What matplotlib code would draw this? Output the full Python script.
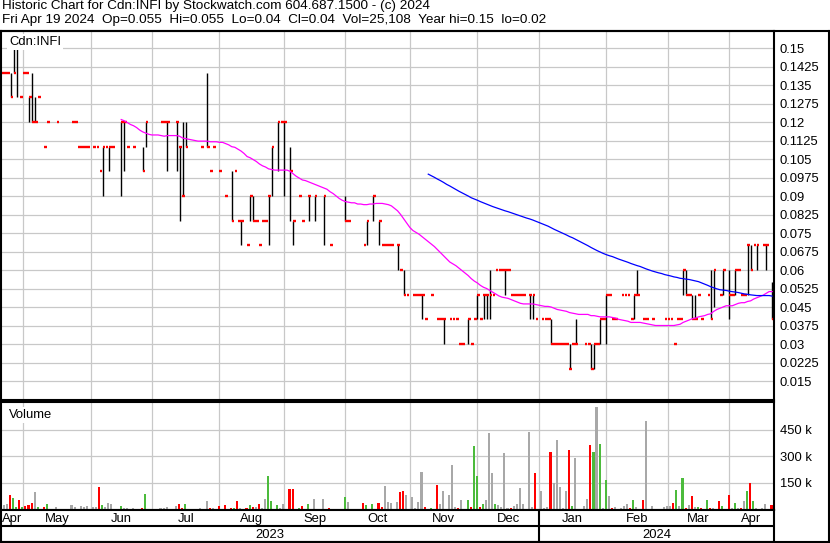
import numpy as np
import pandas as pd
import matplotlib
matplotlib.use('Agg')
import matplotlib.pyplot as plt
from matplotlib.lines import Line2D

plt.rcParams['font.family'] = ['Liberation Sans', 'DejaVu Sans']

# trading session number (0 = Apr 20 2023) and daily high / low / close
day = [0, 1, 2, 3, 4, 5, 6, 7, 8, 9, 10, 11, 12, 14, 15, 18, 23, 24, 25, 26,
       27, 28, 30, 31, 32, 33, 34, 35, 36, 39, 40, 41, 43, 46, 47, 52, 53, 54, 57, 58,
       59, 60, 65, 67, 68, 69, 71, 73, 75, 76, 77, 78, 80, 81, 82, 83, 84, 85, 86, 87,
       88, 90, 91, 92, 94, 95, 97, 98, 100, 102, 105, 107, 112, 113, 118, 119, 121, 123, 124, 125,
       126, 127, 129, 130, 131, 132, 134, 135, 136, 137, 138, 140, 142, 143, 144, 146, 147, 148, 149, 150,
       152, 153, 154, 155, 156, 157, 158, 159, 160, 161, 162, 163, 164, 165, 166, 167, 168, 169, 170, 172,
       173, 174, 176, 177, 178, 179, 180, 181, 182, 183, 184, 185, 186, 187, 190, 191, 192, 193, 194, 195,
       196, 197, 198, 199, 200, 202, 203, 204, 205, 206, 207, 209, 210, 212, 216, 217, 218, 219, 220, 221,
       222, 223, 224, 225, 226, 227, 228, 230, 231, 232, 234, 235, 237, 238, 239, 240, 241, 242, 243, 244,
       245, 246, 248, 249, 251]
high = [.14, .14, .14, .14, .15, .15, .13, .14, .14, .13, .14, .13, .13, .11, .12, .12, .12, .12, .11, .11,
        .11, .11, .11, .11, .10, .11, .11, .11, .11, .12, .12, .11, .11, .11, .12, .12, .12, .12, .12, .11,
        .12, .12, .11, .14, .10, .11, .10, .09, .10, .10, .08, .08, .07, .09, .09, .08, .07, .08, .08, .09,
        .11, .12, .12, .12, .11, .08, .09, .08, .09, .09, .09, .07, .09, .08, .07, .08, .09, .08, .07, .07,
        .07, .07, .07, .06, .06, .05, .05, .05, .05, .05, .04, .05, .04, .04, .04, .04, .04, .04, .03, .03,
        .04, .03, .04, .05, .04, .05, .05, .06, .05, .06, .06, .06, .06, .06, .05, .05, .05, .05, .05, .05,
        .05, .04, .04, .04, .04, .04, .03, .03, .03, .03, .03, .03, .03, .04, .03, .03, .03, .03, .03, .04,
        .04, .05, .05, .04, .04, .05, .05, .05, .04, .05, .06, .04, .04, .04, .04, .04, .04, .03, .04, .04,
        .06, .06, .05, .05, .05, .05, .04, .05, .06, .06, .05, .06, .06, .05, .06, .06, .05, .05, .07, .07,
        .07, .07, .07, .07, .055]
low = [.14, .14, .14, .13, .14, .13, .13, .14, .14, .12, .12, .12, .13, .11, .12, .12, .12, .12, .11, .11,
       .11, .11, .11, .11, .10, .09, .11, .10, .11, .09, .10, .11, .11, .10, .11, .12, .12, .10, .10, .08,
       .09, .11, .11, .11, .10, .11, .10, .09, .08, .10, .08, .07, .07, .08, .08, .08, .07, .08, .08, .07,
       .09, .10, .12, .09, .08, .07, .09, .08, .08, .08, .07, .07, .08, .08, .07, .07, .08, .07, .07, .07,
       .07, .07, .06, .06, .05, .05, .05, .05, .05, .04, .04, .05, .04, .04, .03, .04, .04, .04, .03, .03,
       .03, .03, .04, .04, .04, .04, .04, .04, .05, .06, .06, .06, .05, .06, .05, .05, .05, .05, .05, .04,
       .04, .04, .04, .04, .04, .03, .03, .03, .03, .03, .03, .02, .03, .03, .03, .03, .02, .02, .03, .03,
       .04, .03, .05, .04, .04, .05, .05, .05, .04, .04, .05, .04, .04, .04, .04, .04, .04, .03, .04, .04,
       .05, .05, .05, .04, .04, .05, .04, .05, .04, .045, .05, .05, .04, .05, .05, .06, .05, .05, .05, .06,
       .07, .06, .07, .06, .04]
close = [.14, .14, .14, .13, .14, .15, .13, .14, .14, .13, .12, .12, .13, .11, .12, .12, .12, .12, .11, .11,
         .11, .11, .11, .11, .10, .11, .11, .11, .11, .12, .12, .11, .11, .10, .12, .12, .12, .12, .12, .11,
         .09, .11, .11, .11, .10, .11, .10, .09, .08, .10, .08, .08, .07, .09, .08, .08, .07, .08, .08, .09,
         .11, .12, .12, .12, .10, .08, .09, .08, .09, .09, .09, .07, .08, .08, .07, .08, .09, .08, .07, .07,
         .07, .07, .07, .06, .05, .05, .05, .05, .05, .05, .04, .05, .04, .04, .04, .04, .04, .04, .03, .03,
         .04, .03, .04, .05, .04, .05, .05, .05, .05, .06, .06, .06, .06, .06, .05, .05, .05, .05, .05, .05,
         .05, .04, .04, .04, .04, .03, .03, .03, .03, .03, .03, .02, .03, .03, .03, .03, .02, .03, .03, .04,
         .04, .05, .05, .04, .04, .05, .05, .05, .04, .05, .05, .04, .04, .04, .04, .04, .04, .03, .04, .04,
         .06, .05, .05, .04, .04, .05, .04, .05, .04, .06, .05, .06, .05, .05, .06, .06, .05, .05, .07, .06,
         .07, .07, .07, .07, .04]

# volume per session (thousands) and move vs previous close: 1 up, -1 down, 0 unchanged
vol_day = [1, 2, 3, 4, 5, 6, 7, 8, 9, 10, 11, 12, 14, 15, 18, 23, 24, 26, 27, 28,
           30, 31, 32, 33, 34, 35, 36, 39, 40, 41, 43, 46, 47, 52, 53, 54, 57, 58, 59, 60,
           65, 67, 68, 69, 71, 73, 75, 76, 77, 78, 80, 81, 82, 83, 84, 85, 86, 87, 88, 90,
           91, 92, 94, 95, 97, 98, 100, 102, 105, 107, 112, 113, 118, 119, 121, 123, 124, 125, 126, 127,
           129, 130, 131, 132, 134, 135, 136, 137, 138, 140, 142, 143, 144, 146, 147, 148, 149, 150, 152, 153,
           154, 155, 156, 157, 158, 159, 160, 161, 162, 163, 164, 165, 166, 167, 168, 169, 170, 172, 173, 174,
           176, 177, 178, 179, 180, 181, 182, 183, 184, 185, 186, 187, 190, 191, 192, 193, 194, 195, 196, 197,
           198, 199, 200, 202, 203, 204, 205, 206, 207, 209, 210, 212, 216, 217, 218, 219, 220, 221, 222, 223,
           224, 225, 226, 227, 228, 230, 231, 232, 234, 235, 237, 238, 239, 240, 241, 242, 243, 244, 245, 246,
           248, 249, 251]
vol_k = [22, 30, 81, 62, 11, 52, 15, 19, 26, 34, 97, 13, 11, 30, 11, 22, 11, 19, 15, 19,
         11, 11, 124, 22, 15, 34, 30, 19, 8, 8, 8, 8, 86, 8, 8, 11, 19, 30, 8, 30,
         8, 45, 8, 8, 19, 22, 8, 8, 47, 8, 8, 22, 15, 11, 30, 8, 60, 187, 47, 24,
         8, 30, 114, 114, 8, 19, 30, 60, 60, 8, 69, 41, 36, 22, 30, 36, 15, 131, 41, 36,
         41, 97, 105, 81, 69, 8, 41, 210, 13, 8, 137, 30, 103, 81, 249, 13, 8, 52, 52, 13,
         356, 187, 13, 30, 52, 429, 204, 30, 24, 13, 317, 8, 8, 19, 30, 120, 30, 435, 13, 204,
         103, 8, 13, 322, 148, 390, 126, 8, 103, 334, 19, 289, 19, 58, 362, 322, 577, 367, 8, 165,
         75, 8, 13, 8, 19, 30, 8, 52, 13, 52, 502, 19, 13, 19, 19, 34, 109, 19, 176, 8,
         24, 75, 13, 13, 8, 52, 8, 8, 47, 19, 81, 8, 36, 8, 8, 47, 103, 148, 47, 8,
         8, 30, 25]
vol_move = [0, 0, -1, 1, 1, -1, 1, -1, -1, -1, 0, 1, -1, 1, 0, 0, 0, 0, 0, 0,
            0, 0, -1, 1, 0, 0, 0, 1, 0, 0, 0, -1, 1, 0, 0, 0, 0, -1, -1, 1,
            0, 0, -1, 0, -1, -1, -1, 1, -1, 0, -1, 1, -1, 0, -1, 0, 0, 1, 1, 1,
            0, 0, -1, -1, 1, -1, 1, 0, 0, -1, 1, 0, -1, 1, 1, -1, -1, 0, 0, 0,
            0, -1, -1, 0, 0, 0, 0, 0, -1, 1, -1, 0, 0, 0, 0, 0, -1, 0, 1, -1,
            1, 1, -1, 1, 0, 0, 0, 1, 0, 0, 0, 0, -1, 0, 0, 0, 0, 0, 0, -1,
            0, 0, 0, -1, 0, 0, 0, 0, 0, -1, 1, 0, 0, 0, -1, 1, 0, 1, 0, 1,
            0, -1, 0, 0, 0, 0, -1, 1, 0, -1, 0, 0, 0, 0, 0, -1, 1, 0, 1, -1,
            0, -1, 0, 1, -1, 1, -1, 0, -1, 1, -1, 0, 1, 0, -1, 0, 1, -1, 1, 0,
            0, 0, -1]

n_days = 252
price_ticks = [0.015, 0.0225, 0.03, 0.0375, 0.045, 0.0525, 0.06, 0.0675, 0.075, 0.0825,
               0.09, 0.0975, 0.105, 0.1125, 0.12, 0.1275, 0.135, 0.1425, 0.15]
vol_ticks = [150000, 300000, 450000]
vol_labels = ['150 k', '300 k', '450 k']
month_start = [7, 29, 49, 71, 92, 112, 133, 155, 175, 197, 217, 237]
month_names = ['Apr', 'May', 'Jun', 'Jul', 'Aug', 'Sep', 'Oct', 'Nov', 'Dec',
               'Jan', 'Feb', 'Mar', 'Apr']
year_start = 175
years = ['2023', '2024']

W, H = 830, 543
fig = plt.figure(figsize=(W / 100, H / 100), dpi=100)


def px_axes(x0, y0, x1, y1):
    return fig.add_axes([x0 / W, 1 - y1 / H, (x1 - x0) / W, (y1 - y0) / H])


def frame(a):
    for s in a.spines.values():
        s.set_color('black')
        s.set_linewidth(1.5)


x_lo, x_hi = -0.16, 251.6
grid_c = '#c8c8c8'
fs = 9.4
fs_head = 9.7

# price panel
ax = px_axes(1, 31, 774, 400)
ax.set_xlim(x_lo, x_hi)
ax.set_ylim(0.0073, 0.1569)
ax.set_yticks(price_ticks)
ax.set_yticklabels([f'{t:g}' for t in price_ticks])
ax.yaxis.tick_right()
ax.tick_params(axis='y', length=0, pad=4, labelsize=fs)
ax.set_xticks(month_start)
ax.tick_params(axis='x', length=0, labelbottom=False)
ax.grid(True, color=grid_c, lw=0.9)
ax.set_axisbelow(True)
frame(ax)

d = np.array(day)
hi = np.array(high)
lo = np.array(low)
cl = np.array(close)
rng = hi > lo
ax.vlines(d[rng], lo[rng], hi[rng], color='black', lw=1.0)
ax.hlines(cl, d - 0.05, d + 0.85, color='red', lw=1.7)

daily = pd.Series(cl, index=d).reindex(range(n_days)).ffill()
ax.plot(daily.index, daily.rolling(40).mean(), color='magenta', lw=0.9)
ax.plot(daily.index, daily.rolling(140).mean(), color='blue', lw=0.9)

ax.text(0.0105, 0.986, 'Cdn:INFI', transform=ax.transAxes, fontsize=fs, va='top', ha='left',
        bbox=dict(facecolor='white', edgecolor='none', pad=1.5))

# volume panel
vax = px_axes(1, 401.5, 774, 510)
vax.set_xlim(x_lo, x_hi)
vax.set_ylim(-4000, 610000)
vax.set_yticks(vol_ticks)
vax.set_yticklabels(vol_labels)
vax.yaxis.tick_right()
vax.tick_params(axis='y', length=0, pad=4, labelsize=fs)
vax.set_xticks(month_start)
vax.tick_params(axis='x', length=0, labelbottom=False)
vax.grid(True, color=grid_c, lw=0.9)
vax.set_axisbelow(True)
frame(vax)
colors = {1: '#4cbb3c', -1: '#ff0000', 0: '#a8a8a8'}
vax.bar(np.array(vol_day) - 0.2, np.array(vol_k) * 1000, width=0.68,
        color=[colors[m] for m in vol_move], linewidth=0)
vax.text(0.0105, 0.93, 'Volume', transform=vax.transAxes, fontsize=fs, va='top', ha='left',
         bbox=dict(facecolor='white', edgecolor='none', pad=1.5))

# month / year rows
tax = px_axes(1, 510, 774, 542)
tax.set_xlim(x_lo, x_hi)
tax.set_ylim(0, 2)
tax.set_xticks([])
tax.set_yticks([])
frame(tax)
tax.axhline(1, color='black', lw=1.5)
tax.vlines(year_start, 0, 2, color='black', lw=1.5)
bounds = [x_lo] + month_start + [x_hi]
for i, name in enumerate(month_names):
    tax.text((bounds[i] + bounds[i + 1]) / 2, 1.45, name, ha='center', va='center', fontsize=fs)
ybounds = [x_lo, year_start, x_hi]
for i, name in enumerate(years):
    tax.text((ybounds[i] + ybounds[i + 1]) / 2, 0.42, name, ha='center', va='center', fontsize=fs)

# outer frame and header
fig.add_artist(Line2D([0, 1], [1 - 31 / H] * 2, transform=fig.transFigure, color='black', lw=1.5))
fig.add_artist(Line2D([828.5 / W] * 2, [0, 1 - 31 / H], transform=fig.transFigure, color='black', lw=1.5))
fig.add_artist(Line2D([0, 1], [1 - 542 / H] * 2, transform=fig.transFigure, color='black', lw=1.5))
fig.text(1.5 / W, 1 - 0.5 / H, 'Historic Chart for Cdn:INFI by Stockwatch.com 604.687.1500 - (c) 2024',
         fontsize=fs_head, va='top', ha='left')
fig.text(1.5 / W, 1 - 14.5 / H,
         'Fri Apr 19 2024  Op=0.055  Hi=0.055  Lo=0.04  Cl=0.04  Vol=25,108  Year hi=0.15  lo=0.02',
         fontsize=fs_head, va='top', ha='left')

fig.savefig('out.png', dpi=100)
